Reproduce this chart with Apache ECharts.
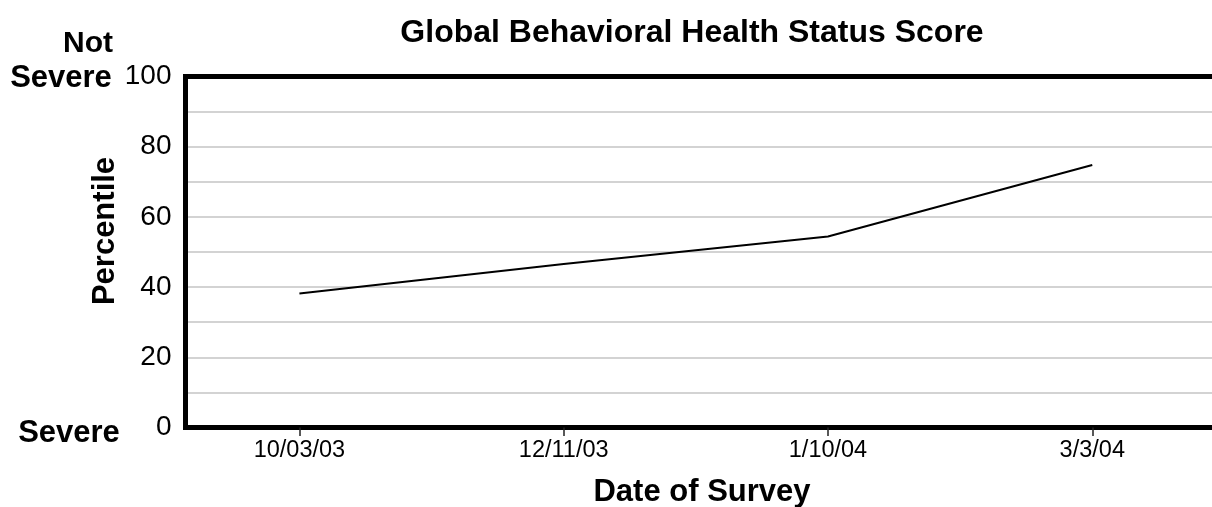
<!DOCTYPE html>
<html>
<head>
<meta charset="utf-8">
<script src="https://cdn.jsdelivr.net/npm/echarts@6/dist/echarts.min.js"></script>
<style>
  html, body { margin: 0; padding: 0; background: #fff; }
  #chart { width: 1212px; height: 507px; }
</style>
</head>
<body>
<div id="chart"></div>
<script>
// survey dates and percentile scores
const surveyDates = ['10/03/03', '12/11/03', '1/10/04', '3/3/04'];
const percentile = [38.2, 46.6, 54.4, 74.8];
const yTicks = [0, 20, 40, 60, 80, 100];

const myChart = echarts.init(document.getElementById('chart'));
const font = 'Liberation Sans, Arial, sans-serif';
const idx = surveyDates.map((d, i) => i);
const frameLine = { color: '#000', width: 5, cap: 'square' };

const option = {
    animation: false,
    title: {
        text: 'Global Behavioral Health Status Score',
        left: 687,
        top: 12,
        textAlign: 'center',
        textStyle: { fontFamily: font, fontWeight: 'bold', fontSize: 32, color: '#000' }
    },
    grid: {
        left: 185.5,
        top: 76.5,
        right: 0,
        bottom: 79.5
    },
    xAxis: [
        {
            type: 'value',
            position: 'bottom',
            min: -0.431,
            max: 3.453,
            axisLine: { show: true, onZero: false, lineStyle: frameLine },
            splitLine: { show: false },
            axisTick: {
                show: true,
                customValues: idx,
                length: 8.5,
                lineStyle: { color: '#222', width: 1.5 }
            },
            axisLabel: {
                customValues: idx,
                formatter: v => surveyDates[Math.round(v)],
                margin: 11,
                fontFamily: font,
                fontSize: 23.5,
                color: '#000'
            }
        },
        {
            // top frame line only
            type: 'value',
            position: 'top',
            min: -0.431,
            max: 3.453,
            axisLine: { show: true, onZero: false, lineStyle: frameLine },
            axisTick: { show: false },
            axisLabel: { show: false },
            splitLine: { show: false }
        }
    ],
    yAxis: {
        type: 'value',
        min: 0,
        max: 100,
        interval: 10,
        axisLine: { show: true, onZero: false, lineStyle: frameLine },
        axisTick: { show: false },
        axisLabel: {
            formatter: v => (yTicks.indexOf(v) >= 0 ? String(v) : ''),
            margin: 14,
            fontFamily: font,
            fontSize: 28,
            color: '#000'
        },
        splitLine: { show: true, lineStyle: { color: '#c4c4c4', width: 1.5 } }
    },
    graphic: [
        {
            type: 'text', x: 88, y: 44,
            style: { text: 'Not', font: 'bold 30px ' + font, fill: '#000', align: 'center', verticalAlign: 'middle' }
        },
        {
            type: 'text', x: 61, y: 78,
            style: { text: 'Severe', font: 'bold 31px ' + font, fill: '#000', align: 'center', verticalAlign: 'middle' }
        },
        {
            type: 'text', x: 69, y: 433,
            style: { text: 'Severe', font: 'bold 31px ' + font, fill: '#000', align: 'center', verticalAlign: 'middle' }
        },
        {
            type: 'text', x: 105, y: 231, rotation: Math.PI / 2,
            style: { text: 'Percentile', font: 'bold 31px ' + font, fill: '#000', align: 'center', verticalAlign: 'middle' }
        },
        {
            type: 'text', x: 702, y: 492,
            style: { text: 'Date of Survey', font: 'bold 31px ' + font, fill: '#000', align: 'center', verticalAlign: 'middle' }
        }
    ],
    series: [
        {
            type: 'line',
            symbol: 'none',
            z: 1,
            lineStyle: { color: '#000', width: 2 },
            data: percentile.map((v, i) => [i, v])
        }
    ]
};

myChart.setOption(option);
</script>
</body>
</html>
